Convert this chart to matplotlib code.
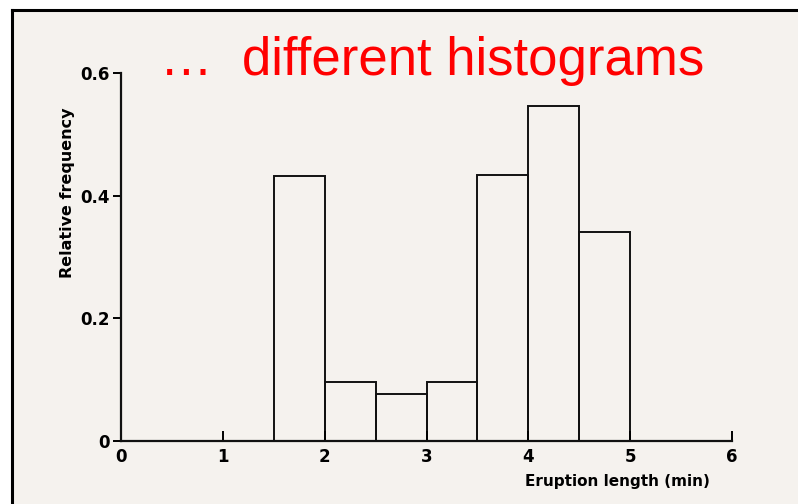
import numpy as np
import matplotlib.pyplot as plt
from matplotlib.patches import Rectangle
from matplotlib.lines import Line2D

# histogram of eruption lengths (bin left edges, width 0.5 min)
bin_left = [1.5, 2.0, 2.5, 3.0, 3.5, 4.0, 4.5]
rel_freq = [0.432, 0.096, 0.077, 0.096, 0.434, 0.547, 0.341]
bin_width = 0.5

xticks = [0, 1, 2, 3, 4, 5, 6]
yticks = [0, 0.2, 0.4, 0.6]
ytick_labels = ['0', '0.2', '0.4', '0.6']

W, H = 798, 504
fig = plt.figure(figsize=(W / 100, H / 100), dpi=100)
fig.patch.set_facecolor('white')

# scanned paper background + slide frame
fig.add_artist(Rectangle((12 / W, 0), 1 - 12 / W, 1 - 10 / H, transform=fig.transFigure,
                         facecolor='#f5f2ee', edgecolor='none', zorder=-10))
fig.add_artist(Line2D([12 / W, 12 / W], [0, 1 - 10 / H], transform=fig.transFigure,
                      color='black', lw=2.2))
fig.add_artist(Line2D([12 / W, 1], [1 - 10 / H, 1 - 10 / H], transform=fig.transFigure,
                      color='black', lw=2.2))

ax = fig.add_axes([121 / W, 1 - 441 / H, (732 - 121) / W, (441 - 73) / H])
ax.patch.set_alpha(0)

ax.bar(bin_left, rel_freq, width=bin_width, align='edge',
       facecolor='none', edgecolor='#111111', linewidth=1.4)

ax.set_xlim(0, 6)
ax.set_ylim(0, 0.6)
for s in ['top', 'right']:
    ax.spines[s].set_visible(False)
for s in ['left', 'bottom']:
    ax.spines[s].set_linewidth(1.6)
    ax.spines[s].set_color('#111111')

lab_font = 'DejaVu Sans'
ax.set_xticks(xticks)
ax.set_xticklabels([str(t) for t in xticks], fontfamily=lab_font, fontweight='bold', fontsize=12)
ax.set_yticks(yticks)
ax.set_yticklabels(ytick_labels, fontfamily=lab_font, fontweight='bold', fontsize=12)
ax.tick_params(axis='x', direction='in', length=7, width=1.4, pad=5)
ax.tick_params(axis='y', direction='out', length=6, width=1.4, pad=2)

ax.set_xlabel('Eruption length (min)', fontfamily=lab_font, fontweight='bold', fontsize=11)
ax.xaxis.set_label_coords(0.813, -0.09)
ax.set_ylabel('Relative frequency', fontfamily=lab_font, fontweight='bold', fontsize=11.5)
ax.yaxis.set_label_coords(-0.075, 0.674)

fig.text(160 / W, 1 - 75 / H, '\u2026  different histograms', color='#ff0000',
         fontfamily='Liberation Sans', fontsize=38, ha='left', va='baseline')

fig.savefig('out.png', dpi=100)
